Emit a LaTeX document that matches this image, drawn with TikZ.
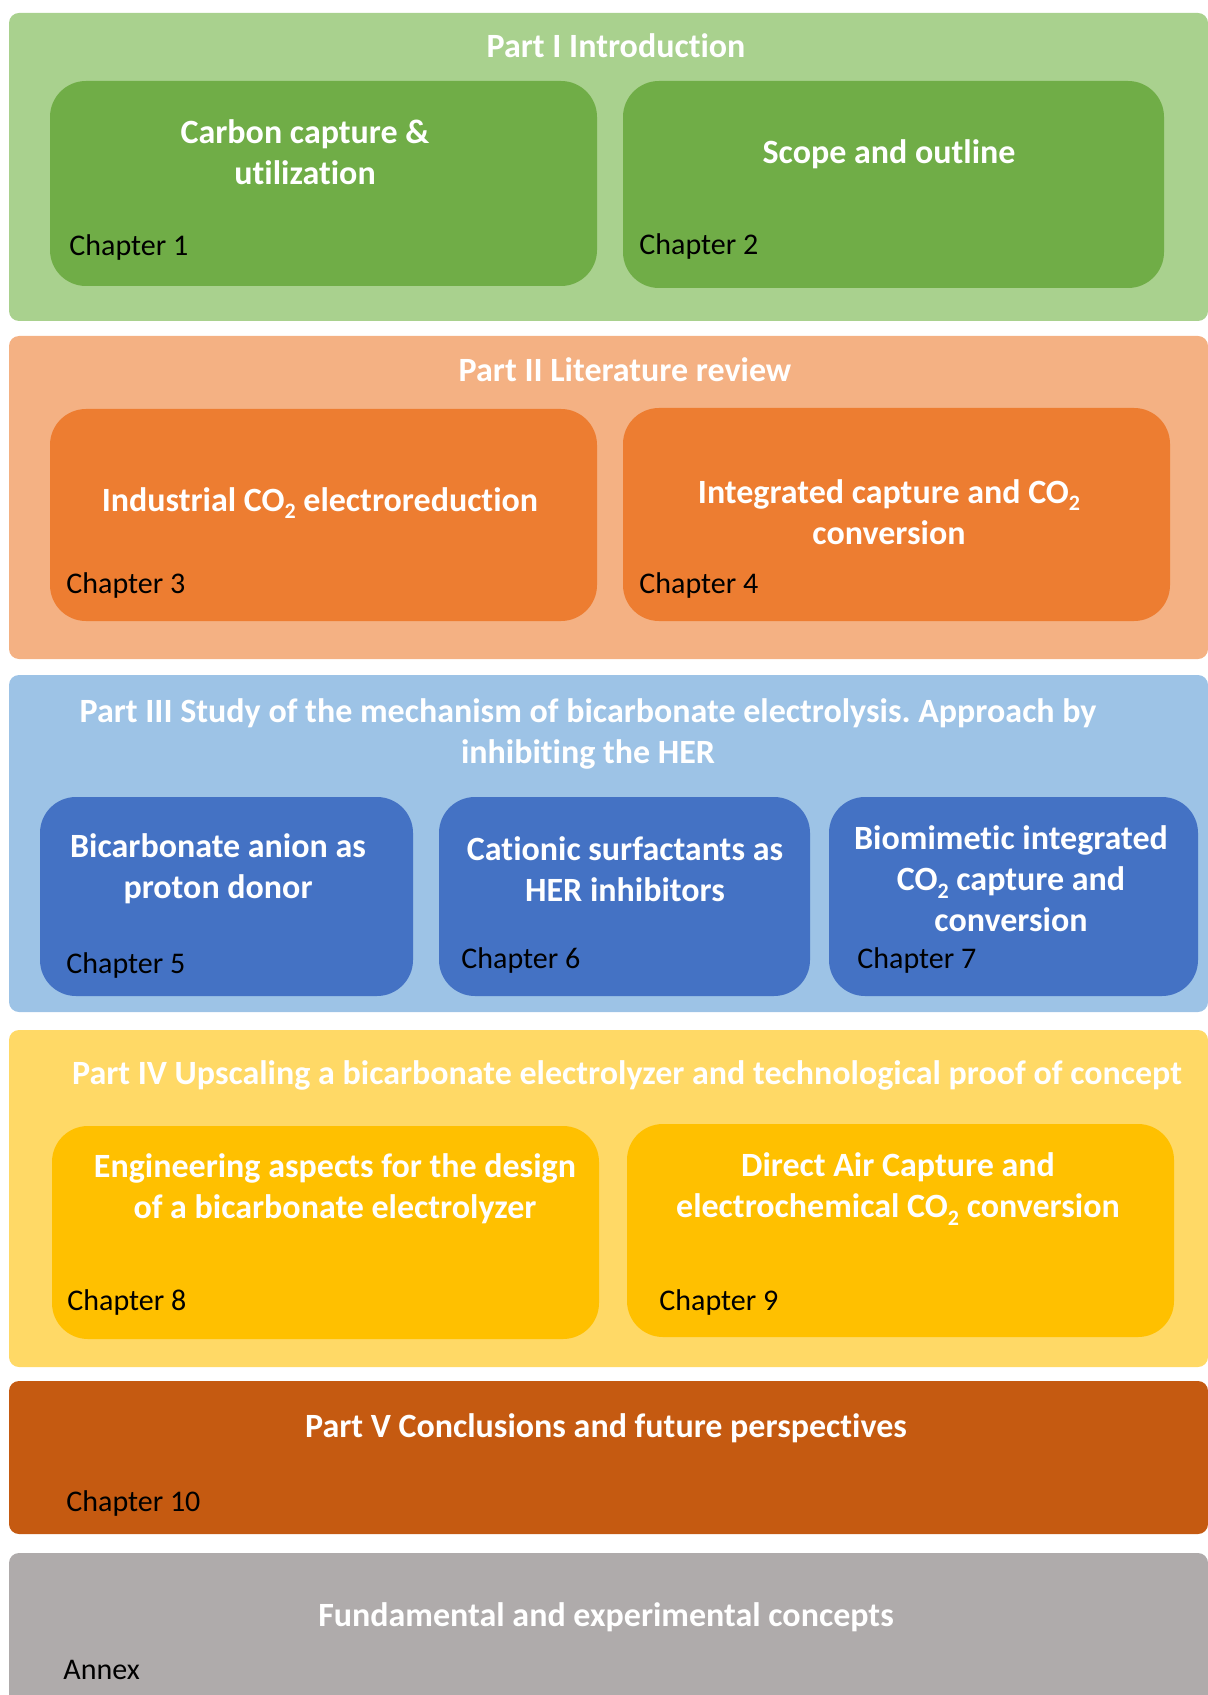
\documentclass[tikz,border=0pt]{standalone}
\usepackage{fontspec}
\setmainfont{Carlito}[Ligatures=NoCommon]
\frenchspacing
\usetikzlibrary{fit}
\definecolor{introL}{HTML}{A9D18E}
\definecolor{introD}{HTML}{70AD47}
\definecolor{litL}{HTML}{F4B183}
\definecolor{litD}{HTML}{ED7D31}
\definecolor{mechL}{HTML}{9DC3E6}
\definecolor{mechD}{HTML}{4472C4}
\definecolor{upL}{HTML}{FFD966}
\definecolor{upD}{HTML}{FFC000}
\definecolor{concl}{HTML}{C55A11}
\definecolor{annex}{HTML}{AFABAB}
% lowered subscript two for CO2
\newcommand{\subtwo}{\raisebox{-0.45ex}{\fontsize{11}{11}\selectfont 2}}
\begin{document}
\begin{tikzpicture}[x=0.5pt,y=-0.5pt,
  partbox/.style={rectangle, rounded corners=5pt, inner sep=0pt, draw=none},
  chapbox/.style={rectangle, rounded corners=18pt, inner sep=0pt, draw=none},
  head/.style={text=white, font=\bfseries\fontsize{17}{20.5}\selectfont, align=center, inner sep=0pt},
  chap/.style={text=black, font=\fontsize{15}{18}\selectfont, anchor=west, inner sep=0pt}]
\clip (0,0) rectangle (1208,1695);

% Part I
\node[partbox, fill=introL, fit={(9,13) (1208,321)}] (p1) {};
\node[chapbox, fill=introD, fit={(50,81) (597,286)}] (c1) {};
\node[chapbox, fill=introD, fit={(623,81) (1164,288)}] (c2) {};
\node[head] (t1) at (616,46) {Part I Introduction};
\node[head] (h1) at (305,152) {Carbon capture \&\\utilization};
\node[chap] (l1) at (69,248) {Chapter 1};
\node[head] (h2) at (889,154) {Scope and outline};
\node[chap] (l2) at (639,247) {Chapter 2};

% Part II
\node[partbox, fill=litL, fit={(9,336) (1208,659)}] (p2) {};
\node[chapbox, fill=litD, fit={(50,409) (597,621)}] (c3) {};
\node[chapbox, fill=litD, fit={(623,408) (1170,621)}] (c4) {};
\node[head] (t2) at (625,370) {Part II Literature review};
\node[head] (h3) at (320,503) {Industrial CO\subtwo{} electroreduction};
\node[chap] (l3) at (66,585) {Chapter 3};
\node[head] (h4) at (889,512) {Integrated capture and CO\subtwo\\conversion};
\node[chap] (l4) at (639,585) {Chapter 4};

% Part III
\node[partbox, fill=mechL, fit={(9,675) (1208,1012)}] (p3) {};
\node[chapbox, fill=mechD, fit={(40,797) (413,996)}] (c5) {};
\node[chapbox, fill=mechD, fit={(439,797) (810,996)}] (c6) {};
\node[chapbox, fill=mechD, fit={(829,797) (1198,996)}] (c7) {};
\node[head] (t3) at (588,734) {Part III Study of the mechanism of bicarbonate electrolysis. Approach by\\inhibiting the HER};
\node[head] (h5) at (218,869) {Bicarbonate anion as\\proton donor};
\node[chap] (l5) at (66,965) {Chapter 5};
\node[head] (h6) at (625,869) {Cationic surfactants as\\HER inhibitors};
\node[chap] (l6) at (461,960) {Chapter 6};
\node[head] (h7) at (1011,879) {Biomimetic integrated\\CO\subtwo{} capture and\\conversion};
\node[chap] (l7) at (857,960) {Chapter 7};

% Part IV
\node[partbox, fill=upL, fit={(9,1030) (1208,1367)}] (p4) {};
\node[chapbox, fill=upD, fit={(52,1126) (599,1339)}] (c8) {};
\node[chapbox, fill=upD, fit={(627,1124) (1174,1337)}] (c9) {};
\node[head] (t4) at (627,1075) {Part IV Upscaling a bicarbonate electrolyzer and technological proof of concept};
\node[head] (h8) at (335,1189) {Engineering aspects for the design\\of a bicarbonate electrolyzer};
\node[chap] (l8) at (67,1302) {Chapter 8};
\node[head] (h9) at (898,1189) {Direct Air Capture and\\electrochemical CO\subtwo{} conversion};
\node[chap] (l9) at (659,1302) {Chapter 9};

% Part V
\node[partbox, fill=concl, fit={(9,1381) (1208,1534)}] (p5) {};
\node[head] (t5) at (606,1428) {Part V Conclusions and future perspectives};
\node[chap] (l10) at (66,1503) {Chapter 10};

% Annex
\node[partbox, fill=annex, fit={(9,1553) (1208,1720)}] (p6) {};
\node[head] (t6) at (606,1617) {Fundamental and experimental concepts};
\node[chap] (l11) at (63,1670) {Annex};
\end{tikzpicture}
\end{document}
